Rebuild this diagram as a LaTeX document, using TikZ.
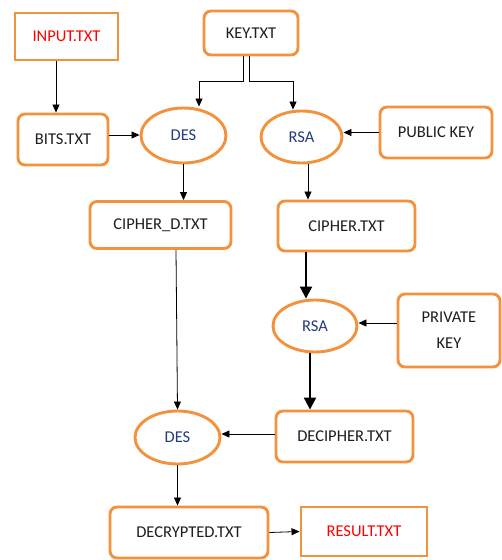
\documentclass[tikz,border=0pt]{standalone}
\usepackage{fontspec}
\setmainfont{Carlito}
\usetikzlibrary{arrows.meta,shapes.geometric}
\definecolor{orng}{RGB}{243,146,60}
\definecolor{dblue}{RGB}{35,60,125}
\definecolor{txt}{RGB}{30,30,30}
\begin{document}
\begin{tikzpicture}[x=1pt,y=-1pt,
  base/.style={draw=orng,line width=2.9pt,fill=white,inner sep=0pt,text=txt,font=\fontsize{16.5}{26}\selectfont,align=center},
  box/.style={base,rounded corners=7pt},
  sqbox/.style={base,text=red},
  ell/.style={base,ellipse,text=dblue},
  arr/.style={-{Triangle[length=8pt,width=7pt]},line width=0.8pt},
  tarr/.style={-{Triangle[length=12pt,width=12pt]},line width=2.2pt}]
\useasboundingbox (0,0) rectangle (502,560);
\node[sqbox,minimum width=103pt,minimum height=47pt] (input) at (66.5,36.5) {INPUT.TXT};
\node[box,minimum width=94pt,minimum height=44pt] (key) at (251,33) {KEY.TXT};
\node[box,minimum width=90pt,minimum height=51pt] (bits) at (63,139.5) {BITS.TXT};
\node[ell,minimum width=85pt,minimum height=55pt] (des1) at (183.5,135.5) {DES};
\node[ell,minimum width=81pt,minimum height=52pt] (rsa1) at (301.5,137) {RSA};
\node[box,minimum width=112pt,minimum height=51pt] (pub) at (436,132.5) {PUBLIC KEY};
\node[box,minimum width=141pt,minimum height=47pt] (cipherd) at (160.5,225) {CIPHER\_D.TXT};
\node[box,minimum width=137pt,minimum height=50pt] (cipher) at (346.5,226) {CIPHER.TXT};
\node[ell,minimum width=84pt,minimum height=52pt] (rsa2) at (315,326) {RSA};
\node[box,minimum width=102pt,minimum height=73pt] (priv) at (449,330.5) {PRIVATE\\KEY};
\node[box,minimum width=137pt,minimum height=51pt] (decipher) at (344.5,436.5) {DECIPHER.TXT};
\node[ell,minimum width=85pt,minimum height=53pt] (des2) at (177.5,437.5) {DES};
\node[box,minimum width=158pt,minimum height=51pt] (decrypted) at (189,532.5) {DECRYPTED.TXT};
\node[sqbox,minimum width=126pt,minimum height=49pt] (result) at (364,531.5) {RESULT.TXT};

\draw[arr] ([xshift=-10.5pt]input.south) -- ([xshift=-7pt]bits.north);
\draw[arr] ([xshift=-8pt]key.south) -- ++(0,25) -| ([xshift=15.5pt]des1.north);
\draw[arr] ([xshift=-2pt]key.south) -- ++(0,25) -| ([xshift=-8.5pt]rsa1.north);
\draw[arr] ([yshift=4.5pt]bits.east) -- ([yshift=0.5pt]des1.west);
\draw[arr] (pub.west) -- ([yshift=4.5pt]rsa1.east);
\draw[arr] (des1.south) -- (des1.south |- cipherd.north);
\draw[arr] ([xshift=6.5pt]rsa1.south) -- ([xshift=6.5pt]rsa1.south |- cipher.north);
\draw[tarr] ([xshift=-40.5pt]cipher.south) -- ([xshift=-9pt]rsa2.north);
\draw[arr] ([yshift=7.5pt]priv.west) -- ([yshift=3pt]rsa2.east);
\draw[tarr] ([xshift=-5pt]rsa2.south) -- ([xshift=-34.5pt]decipher.north);
\draw[arr] ([xshift=15.5pt]cipherd.south) -- (des2.north);
\draw[arr] ([yshift=2.5pt]decipher.west) -- ([yshift=3.5pt]des2.east);
\draw[arr] (des2.south) -- (des2.south |- decrypted.north);
\draw[arr] (decrypted.east) -- (result.west);
\end{tikzpicture}
\end{document}
